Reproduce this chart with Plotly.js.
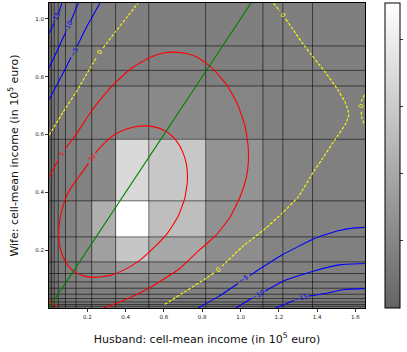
<!DOCTYPE html>
<html>
<head>
<meta charset="utf-8">
<script src="https://cdn.plot.ly/plotly-3.0.1.min.js"></script>
<style>
  html, body { margin: 0; padding: 0; background: #fff; }
  #chart { width: 407px; height: 352px; }
</style>
</head>
<body>
<div id="chart"></div>
<script>
// Cell boundaries of the income grid (in 10^5 euro)
const xEdges = [0, 0.0135, 0.0275, 0.048, 0.086, 0.1415, 0.223, 0.348, 0.521, 0.818, 1.117, 1.221, 1.376, 1.65];
const yEdges = [0, 0.006, 0.012, 0.021, 0.0327, 0.0476, 0.0684, 0.0902, 0.1193, 0.1595, 0.246, 0.3707, 0.5836, 0.768, 0.822, 0.9065, 1.055];

// Cell values, one row per wife-income band (bottom to top)
const cellValues = [
  [0, 0.06, 0.18, 0.26, 0.35, 0.41, 0.47, 0.53, 0.53, 0.53, 0.47, 0.44, 0.41],
  [0, 0.12, 0.23, 0.32, 0.41, 0.47, 0.53, 0.59, 0.59, 0.59, 0.53, 0.50, 0.47],
  [0, 0.18, 0.29, 0.38, 0.47, 0.53, 0.59, 0.65, 0.65, 0.65, 0.59, 0.56, 0.53],
  [0, 0.23, 0.35, 0.44, 0.53, 0.59, 0.65, 0.70, 0.70, 0.70, 0.65, 0.62, 0.59],
  [0, 0.29, 0.41, 0.50, 0.59, 0.65, 0.70, 0.76, 0.76, 0.76, 0.70, 0.68, 0.65],
  [0, 0.35, 0.47, 0.56, 0.65, 0.70, 0.79, 0.85, 0.85, 0.82, 0.76, 0.73, 0.70],
  [0, 0.41, 0.53, 0.62, 0.70, 0.79, 0.88, 0.97, 0.97, 0.88, 0.82, 0.76, 0.73],
  [0, 0.44, 0.56, 0.65, 0.76, 0.88, 1.03, 1.23, 1.12, 0.97, 0.85, 0.79, 0.76],
  [0, 0.47, 0.59, 0.70, 0.82, 0.97, 1.23, 1.61, 1.32, 1.06, 0.88, 0.82, 0.79],
  [0, 0.53, 0.65, 0.76, 0.88, 1.12, 1.76, 2.88, 2.00, 1.23, 0.91, 0.85, 0.82],
  [0, 0.53, 0.65, 0.76, 0.88, 1.17, 2.20, 4.55, 2.64, 1.32, 0.94, 0.88, 0.82],
  [0, 0.53, 0.62, 0.70, 0.79, 0.88, 1.12, 3.43, 2.94, 1.38, 0.94, 0.88, 0.82],
  [0, 0.53, 0.59, 0.68, 0.73, 0.79, 0.88, 1.06, 1.12, 0.97, 0.82, 0.82, 0.79],
  [0, 0.53, 0.59, 0.65, 0.70, 0.76, 0.79, 0.82, 0.82, 0.79, 0.79, 0.79, 0.79],
  [0, 0.53, 0.59, 0.65, 0.70, 0.73, 0.76, 0.82, 0.82, 0.79, 0.79, 0.79, 0.79],
  [0, 0.53, 0.59, 0.65, 0.70, 0.73, 0.76, 0.79, 0.79, 0.79, 0.79, 0.79, 0.79]
];

const xTicks = [0.2, 0.4, 0.6, 0.8, 1.0, 1.2, 1.4, 1.6];
const yTicks = [0.2, 0.4, 0.6, 0.8, 1.0];

// Equal-income diagonal
const diagX = [0, 1.06];
const diagY = [0, 1.06];

// Contour level +10 (the open ends leave room for its label)
const plus10X = [0.206, 0.182, 0.147, 0.112, 0.084, 0.066, 0.054, 0.051, 0.057, 0.073, 0.100, 0.134, 0.175, 0.235, 0.315, 0.390, 0.470, 0.542, 0.620, 0.675, 0.709, 0.723, 0.718, 0.698, 0.665, 0.622, 0.570, 0.508, 0.438, 0.369, 0.318, 0.280, 0.242];
const plus10Y = [0.501, 0.477, 0.446, 0.413, 0.375, 0.334, 0.292, 0.252, 0.213, 0.177, 0.146, 0.125, 0.112, 0.106, 0.112, 0.131, 0.163, 0.205, 0.260, 0.318, 0.380, 0.442, 0.496, 0.540, 0.578, 0.606, 0.623, 0.630, 0.625, 0.610, 0.588, 0.564, 0.536];

// Contour level +5
const plus5X = [0, 0.051, null, 0.083, 0.145, 0.204, 0.266, 0.352, 0.438, 0.525, 0.590, 0.654, 0.720, 0.784, 0.858, 0.930, 0.985, 1.022, 1.039, 1.041, 1.030, 0.998, 0.944, 0.870, 0.784, 0.680, 0.525, 0.447, 0.369, 0.283];
const plus5Y = [0.453, 0.514, null, 0.550, 0.604, 0.664, 0.720, 0.783, 0.833, 0.866, 0.881, 0.885, 0.880, 0.864, 0.826, 0.770, 0.704, 0.633, 0.564, 0.505, 0.450, 0.385, 0.313, 0.250, 0.200, 0.135, 0.070, 0.043, 0.021, 0];
const plus5CornerX = [0, 0.016];
const plus5CornerY = [0.026, 0.013];

// Contour level 0
const zeroLeftX = [0, 0.074, 0.148, 0.214, 0.249, null, 0.283, 0.344, 0.406, 0.464];
const zeroLeftY = [0.598, 0.678, 0.754, 0.829, 0.867, null, 0.900, 0.953, 1.005, 1.054];
const zeroRightX = [1.173, 1.205, null, 1.236, 1.337, 1.440, 1.509, 1.544, 1.561, 1.565, 1.548, 1.492, 1.423, 1.380, 1.302, 1.216, 1.130, 1.008, 0.905, null, 0.860, 0.819, 0.706, 0.603];
const zeroRightY = [1.054, 1.028, null, 1.000, 0.904, 0.818, 0.754, 0.714, 0.685, 0.665, 0.636, 0.581, 0.512, 0.470, 0.385, 0.327, 0.275, 0.211, 0.145, null, 0.121, 0.102, 0.055, 0.012];
const zeroEdgeX = [1.648, 1.630, null, 1.630, 1.634, 1.648];
const zeroEdgeY = [0.737, 0.714, null, 0.679, 0.657, 0.633];

// Negative levels, upper-left corner
const minus15TopX = [0, 0.025, null, 0.051, 0.067];
const minus15TopY = [0.950, 0.983, null, 1.021, 1.054];
const minus10TopX = [0, 0.043, 0.086, null, 0.112, 0.153];
const minus10TopY = [0.829, 0.891, 0.952, null, 0.989, 1.054];
const minus5TopX = [0, 0.093, 0.115, null, 0.147, 0.197, 0.266];
const minus5TopY = [0.720, 0.837, 0.867, null, 0.906, 0.973, 1.054];

// Negative levels, lower-right corner
const minus5BotX = [0.779, 0.888, 0.987, null, 1.048, 1.216, 1.389, 1.509, 1.596, 1.649];
const minus5BotY = [0, 0.041, 0.085, null, 0.112, 0.183, 0.241, 0.267, 0.277, 0.279];
const minus10BotX = [0.976, 1.058, null, 1.127, 1.233, 1.389, 1.526, 1.649];
const minus10BotY = [0, 0.034, null, 0.058, 0.096, 0.129, 0.150, 0.154];
const minus15BotX = [1.183, 1.280, null, 1.355, 1.440, 1.544, 1.649];
const minus15BotY = [0, 0.026, null, 0.041, 0.050, 0.064, 0.067];

// Contour labels
const labelText = ['10', '5', '5', '0', '0', '0', '0', '\u221215', '\u221210', '\u22125', '\u22125', '\u221210', '\u221215'];
const labelX = [0.224, 0.067, 0.031, 0.266, 1.221, 1.630, 0.882, 0.038, 0.099, 0.131, 1.017, 1.092, 1.318];
const labelY = [0.519, 0.532, 0.009, 0.884, 1.014, 0.699, 0.133, 1.002, 0.971, 0.887, 0.099, 0.046, 0.034];

const RED = '#ff0000', BLUE = '#0000ff', YELLOW = '#ffff00', GREEN = '#008000';
const labelStyle = [
  [RED, -54], [RED, -59], [RED, -45], [YELLOW, -56], [YELLOW, 54], [YELLOW, -85], [YELLOW, -38],
  [BLUE, -66], [BLUE, -65], [BLUE, -62], [BLUE, -32], [BLUE, -27], [BLUE, -16]
];

const FONT = 'DejaVu Sans, Arial, sans-serif';

// Cell borders drawn as one segmented line
const gridX = [], gridY = [];
xEdges.slice(1, -1).forEach(x => { gridX.push(x, x, null); gridY.push(yEdges[0], yEdges[yEdges.length - 1], null); });
yEdges.slice(1, -1).forEach(y => { gridX.push(xEdges[0], xEdges[xEdges.length - 1], null); gridY.push(y, y, null); });

function contourLine(x, y, color, dash) {
  return {
    type: 'scatter', mode: 'lines', x: x, y: y, connectgaps: false,
    line: { color: color, width: 1.1, shape: 'spline', smoothing: 0.45, dash: dash || 'solid' },
    hoverinfo: 'skip', showlegend: false
  };
}

const traces = [
  {
    type: 'heatmap', x: xEdges, y: yEdges, z: cellValues,
    zmin: 0, zmax: 4.55,
    colorscale: [[0, '#646464'], [1, '#ffffff']],
    colorbar: {
      thickness: 15, len: 1, lenmode: 'fraction', y: 0.5, yanchor: 'middle',
      x: 1.063, xanchor: 'left', xpad: 0, ypad: 0,
      outlinewidth: 1, outlinecolor: '#000',
      ticks: 'outside', ticklen: 3, tickwidth: 0.8, tickcolor: '#000',
      tickvals: [1, 2, 3, 4], showticklabels: false
    },
    hoverinfo: 'skip'
  },
  {
    type: 'scatter', mode: 'lines', x: gridX, y: gridY, connectgaps: false,
    line: { color: 'rgba(0,0,0,0.55)', width: 1 }, hoverinfo: 'skip', showlegend: false
  },
  contourLine(plus10X, plus10Y, RED),
  contourLine(plus5X, plus5Y, RED),
  contourLine(plus5CornerX, plus5CornerY, RED),
  contourLine(zeroLeftX, zeroLeftY, YELLOW, '3px,1.6px'),
  contourLine(zeroRightX, zeroRightY, YELLOW, '3px,1.6px'),
  contourLine(zeroEdgeX, zeroEdgeY, YELLOW, '3px,1.6px'),
  contourLine(minus15TopX, minus15TopY, BLUE),
  contourLine(minus10TopX, minus10TopY, BLUE),
  contourLine(minus5TopX, minus5TopY, BLUE),
  contourLine(minus5BotX, minus5BotY, BLUE),
  contourLine(minus10BotX, minus10BotY, BLUE),
  contourLine(minus15BotX, minus15BotY, BLUE),
  {
    type: 'scatter', mode: 'lines', x: diagX, y: diagY,
    line: { color: GREEN, width: 1.1 }, hoverinfo: 'skip', showlegend: false
  }
];

const annotations = labelText.map((t, i) => ({
  x: labelX[i], y: labelY[i], xref: 'x', yref: 'y', text: t, showarrow: false,
  textangle: labelStyle[i][1],
  font: { family: FONT, size: 6.5, color: labelStyle[i][0] }
}));

const axisCommon = {
  showgrid: false, zeroline: false, showline: true, mirror: true,
  linecolor: '#000', linewidth: 1,
  ticks: 'outside', ticklen: 3, tickwidth: 0.8, tickcolor: '#000',
  tickfont: { family: FONT, size: 5.5, color: '#222' },
  tickformat: '.1f', automargin: false
};

const layout = {
  width: 407, height: 352,
  margin: { l: 49, r: 40, t: 3, b: 44 },
  paper_bgcolor: '#fff', plot_bgcolor: '#808080',
  font: { family: FONT },
  xaxis: Object.assign({}, axisCommon, {
    range: [0, 1.65], tickvals: xTicks,
    title: { text: 'Husband: cell-mean income (in 10<sup>5</sup> euro)', font: { family: FONT, size: 11, color: '#111' }, standoff: 16 }
  }),
  yaxis: Object.assign({}, axisCommon, {
    range: [0, 1.055], tickvals: yTicks,
    title: { text: 'Wife: cell-mean income (in 10<sup>5</sup> euro)', font: { family: FONT, size: 11, color: '#111' }, standoff: 14 }
  }),
  annotations: annotations,
  showlegend: false
};

Plotly.newPlot('chart', traces, layout, { staticPlot: true, displayModeBar: false });
</script>
</body>
</html>
